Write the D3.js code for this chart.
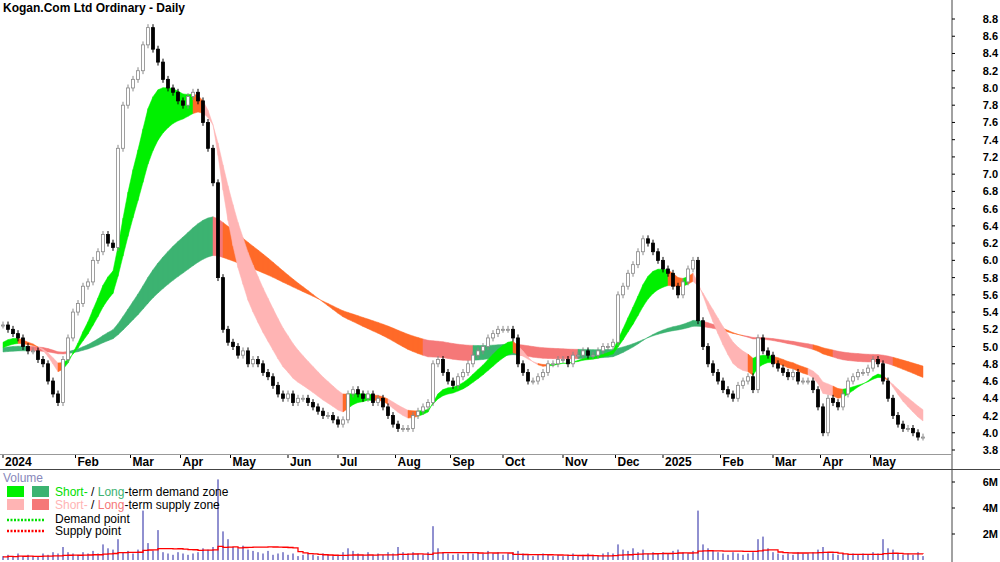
<!DOCTYPE html>
<html><head><meta charset="utf-8">
<script src="https://cdn.jsdelivr.net/npm/d3@7"></script>
<style>body{margin:0;background:#fff;font-family:"Liberation Sans",Arial,sans-serif}</style>
</head><body><svg id="c" width="1000" height="562"></svg>
<script>
// closes, one every second trading day
var closes = [5.25,5.2,5.15,5.1,5.0,4.95,4.95,4.85,4.8,4.6,4.45,
 4.35,4.85,5.1,5.4,5.5,5.7,5.75,6.0,6.1,6.3,
 6.2,6.15,7.3,7.8,8.0,8.1,8.2,8.5,8.7,8.45,
 8.3,8.1,8.0,7.95,7.85,7.8,7.9,7.95,7.85,7.6,
 7.3,6.9,5.8,5.2,5.05,5.0,4.9,4.95,4.8,4.85,
 4.8,4.7,4.65,4.55,4.45,4.4,4.45,4.35,4.4,4.4,
 4.35,4.3,4.25,4.2,4.2,4.15,4.1,4.15,4.45,4.5,
 4.45,4.4,4.45,4.35,4.4,4.3,4.2,4.1,4.05,4.05,
 4.05,4.2,4.25,4.3,4.35,4.8,4.85,4.7,4.6,4.55,
 4.65,4.7,4.8,4.9,4.95,5.0,5.1,5.15,5.2,5.2,
 5.2,5.1,4.8,4.7,4.6,4.6,4.65,4.7,4.8,4.8,
 4.85,4.85,4.8,4.9,4.9,4.95,4.9,4.9,4.95,5.0,
 5.0,5.05,5.6,5.7,5.85,5.95,6.1,6.25,6.2,6.1,
 6.0,5.9,5.85,5.7,5.6,5.75,5.9,6.0,5.3,5.0,
 4.8,4.7,4.6,4.5,4.45,4.4,4.55,4.6,4.65,4.5,
 5.1,4.95,4.9,4.8,4.75,4.7,4.65,4.7,4.6,4.6,
 4.6,4.5,4.3,4.0,4.4,4.35,4.3,4.45,4.6,4.65,
 4.7,4.7,4.75,4.85,4.8,4.6,4.4,4.2,4.1,4.05,
 4.05,4.0,3.95,3.95];
// volume in millions
var volumes = [0.3,0.4,0.3,0.5,0.3,0.4,0.3,0.3,0.5,0.4,0.6,
 0.5,1.0,0.6,0.5,0.4,0.6,0.5,0.7,0.5,1.2,
 0.9,0.8,1.6,0.6,0.7,0.5,0.8,3.8,1.3,0.7,
 2.3,0.6,0.5,0.4,0.6,0.5,0.4,0.5,0.6,0.9,
 0.8,1.0,6.2,2.2,1.6,1.0,0.9,1.1,0.8,0.7,
 0.6,0.5,0.7,0.4,0.5,0.6,0.4,0.5,0.3,0.4,
 0.5,0.4,0.3,0.5,0.4,0.3,0.4,0.6,0.9,0.7,
 0.5,0.4,0.6,0.4,0.5,0.4,0.6,0.5,1.0,0.6,
 0.5,0.6,0.5,0.4,0.6,2.6,0.9,0.6,0.5,0.4,
 0.5,0.4,0.6,0.5,0.6,0.5,0.7,0.5,0.6,0.4,
 0.5,0.6,0.7,0.5,0.4,0.3,0.4,0.5,0.4,0.3,
 0.4,0.3,0.4,0.5,0.3,0.4,0.5,0.4,0.3,0.5,
 0.6,0.5,1.2,0.8,0.7,0.9,0.6,0.8,0.5,0.6,
 0.5,0.6,0.5,0.7,0.8,0.6,0.5,0.7,3.8,1.2,
 0.9,0.7,0.6,0.5,0.4,0.6,0.5,0.4,0.5,0.6,
 1.6,1.8,0.9,0.6,0.5,0.4,0.5,0.4,0.6,0.5,
 0.5,0.6,0.8,1.0,0.6,0.5,0.4,0.5,0.4,0.5,
 0.4,0.5,0.4,0.6,0.5,1.6,0.9,0.8,0.5,0.4,
 0.5,0.4,0.6,0.3];
var monthLabels = ["2024","Feb","Mar","Apr","May","Jun","Jul","Aug","Sep","Oct","Nov","Dec","2025","Feb","Mar","Apr","May"];
var monthStart = [0,29,51,71,91,114,134,157,179,200,224,245,264,287,308,327,347]; // trading-day index
var priceTicks = [3.8,4.0,4.2,4.4,4.6,4.8,5.0,5.2,5.4,5.6,5.8,6.0,6.2,6.4,6.6,6.8,7.0,7.2,7.4,7.6,7.8,8.0,8.2,8.4,8.6,8.8];
var volTicks = [2,4,6];

var svg = d3.select("#c");
var W = 952;
var x = d3.scaleLinear().domain([0, 368]).range([3, 923]);
var y = d3.scaleLinear().domain([3.8, 8.8]).range([450, 19]);
var yv = d3.scaleLinear().domain([0, 6]).range([560, 482]);

function ema(arr, n, seed) {
    var k = 2 / (n + 1), e = seed, out = [];
    arr.forEach(function(v) { e = e + k * (v - e); out.push(e); });
    return out;
}
var s1 = ema(closes, 9, 5.0), s2 = ema(closes, 16, 4.95);
var l1 = ema(closes, 60, 4.98), l2 = ema(closes, 95, 4.93);
var idx = closes.map(function(d, i) { return i * 2; });

// draw a band split into segments by colour
function band(a, b, colorOf) {
    var area = d3.area().x(function(i) { return x(idx[i]); })
        .y0(function(i) { return y(a[i]); }).y1(function(i) { return y(b[i]); });
    for (var i = 0; i < a.length - 1; i++) {
        svg.append("path").attr("d", area([i, i + 1])).attr("fill", colorOf(i)).attr("stroke", colorOf(i)).attr("stroke-width", 0.5);
    }
}
// slope of the band middle over a few steps
function slope(a, b, i, w) {
    var j = Math.min(a.length - 1, i + w), k = Math.max(0, i - w);
    return ((a[j] + b[j]) - (a[k] + b[k])) / 2 / (j - k);
}
band(l1, l2, function(i) {
    var d = slope(l1, l2, i, 2);
    if (d >= 0) return "#3cb371";
    return d < -0.016 ? "#ff6a28" : "#f57878";
});
band(s1, s2, function(i) {
    var d = slope(s1, s2, i, 2);
    if (d >= 0) return "#00f000";
    return d < -0.025 ? "#ffb4b4" : "#ff6a28";
});

// candles
closes.forEach(function(c, i) {
    var o = i ? closes[i - 1] : c;
    var up = c >= o, cx = x(idx[i]);
    var hi = Math.max(o, c) + 0.04, lo = Math.min(o, c) - 0.04;
    svg.append("line").attr("x1", cx).attr("x2", cx).attr("y1", y(hi)).attr("y2", y(lo))
        .attr("stroke", up ? "#888" : "#000");
    svg.append("rect").attr("x", cx - 1.5).attr("width", 3)
        .attr("y", y(Math.max(o, c))).attr("height", Math.max(1, Math.abs(y(o) - y(c))))
        .attr("fill", up ? "#fff" : "#000").attr("stroke", up ? "#888" : "#000").attr("stroke-width", 0.8);
});

// frame
svg.append("line").attr("x1", W).attr("x2", W).attr("y1", 0).attr("y2", 562).attr("stroke", "#444");
svg.append("line").attr("x1", 0).attr("x2", W).attr("y1", 454.5).attr("y2", 454.5).attr("stroke", "#999");
svg.append("line").attr("x1", 0).attr("x2", 1000).attr("y1", 469.5).attr("y2", 469.5).attr("stroke", "#444");

// price axis
priceTicks.forEach(function(t) {
    svg.append("line").attr("x1", W).attr("x2", W + 3).attr("y1", y(t)).attr("y2", y(t)).attr("stroke", "#000");
    svg.append("text").attr("x", 998).attr("y", y(t) + 4).attr("font-size", 11).attr("font-weight", "bold")
        .attr("text-anchor", "end").text(t.toFixed(1));
});
volTicks.forEach(function(t) {
    svg.append("line").attr("x1", W).attr("x2", W + 3).attr("y1", yv(t)).attr("y2", yv(t)).attr("stroke", "#000");
    svg.append("text").attr("x", 998).attr("y", yv(t) + 4).attr("font-size", 11).attr("font-weight", "bold")
        .attr("text-anchor", "end").text(t + "M");
});

// months
monthStart.forEach(function(m, i) {
    var mx = x(m);
    svg.append("line").attr("x1", mx).attr("x2", mx).attr("y1", 455).attr("y2", 458).attr("stroke", "#000");
    svg.append("text").attr("x", mx + 2).attr("y", 466).attr("font-size", 12).attr("font-weight", "bold")
        .text(monthLabels[i]);
});

// volume bars + average
volumes.forEach(function(v, i) {
    svg.append("rect").attr("x", x(idx[i]) - 1).attr("width", 2).attr("y", yv(v)).attr("height", yv(0) - yv(v)).attr("fill", "#9090d0");
});
var avg = volumes.map(function(v, i) {
    var s = volumes.slice(Math.max(0, i - 15), i + 1);
    return d3.mean(s) * 0.8;
});
svg.append("path").datum(avg).attr("fill", "none").attr("stroke", "#ff0000").attr("stroke-width", 1.3)
    .attr("d", d3.line().x(function(d, i) { return x(idx[i]); }).y(function(d) { return yv(d); }).curve(d3.curveStepAfter));

// title and legend
svg.append("text").attr("x", 3).attr("y", 12).attr("font-size", 12).attr("font-weight", "bold").text("Kogan.Com Ltd Ordinary - Daily");
svg.append("text").attr("x", 3).attr("y", 482).attr("font-size", 12).attr("fill", "#8888bb").text("Volume");
function legendRow(yy, c1, c2, parts) {
    if (c1) svg.append("rect").attr("x", 7).attr("y", yy - 10).attr("width", 17).attr("height", 11).attr("fill", c1);
    if (c2) svg.append("rect").attr("x", 32).attr("y", yy - 10).attr("width", 17).attr("height", 11).attr("fill", c2);
    var t = svg.append("text").attr("x", 55).attr("y", yy).attr("font-size", 12);
    parts.forEach(function(p) { t.append("tspan").attr("fill", p[1]).text(p[0]); });
}
legendRow(496, "#00f000", "#3cb371", [["Short-", "#00e000"], [" / ", "#000"], ["Long", "#3cb371"], ["-term demand zone", "#000"]]);
legendRow(509, "#ffb4b4", "#f57878", [["Short-", "#ffb4b4"], [" / ", "#000"], ["Long", "#f57878"], ["-term supply zone", "#000"]]);
svg.append("line").attr("x1", 7).attr("x2", 45).attr("y1", 520).attr("y2", 520).attr("stroke", "#00e000").attr("stroke-width", 2.5).attr("stroke-dasharray", "2,1.5");
svg.append("line").attr("x1", 7).attr("x2", 45).attr("y1", 531).attr("y2", 531).attr("stroke", "#ff0000").attr("stroke-width", 2.5).attr("stroke-dasharray", "2,1.5");
legendRow(523, null, null, [["Demand point", "#000"]]);
legendRow(535, null, null, [["Supply point", "#000"]]);
</script></body></html>
